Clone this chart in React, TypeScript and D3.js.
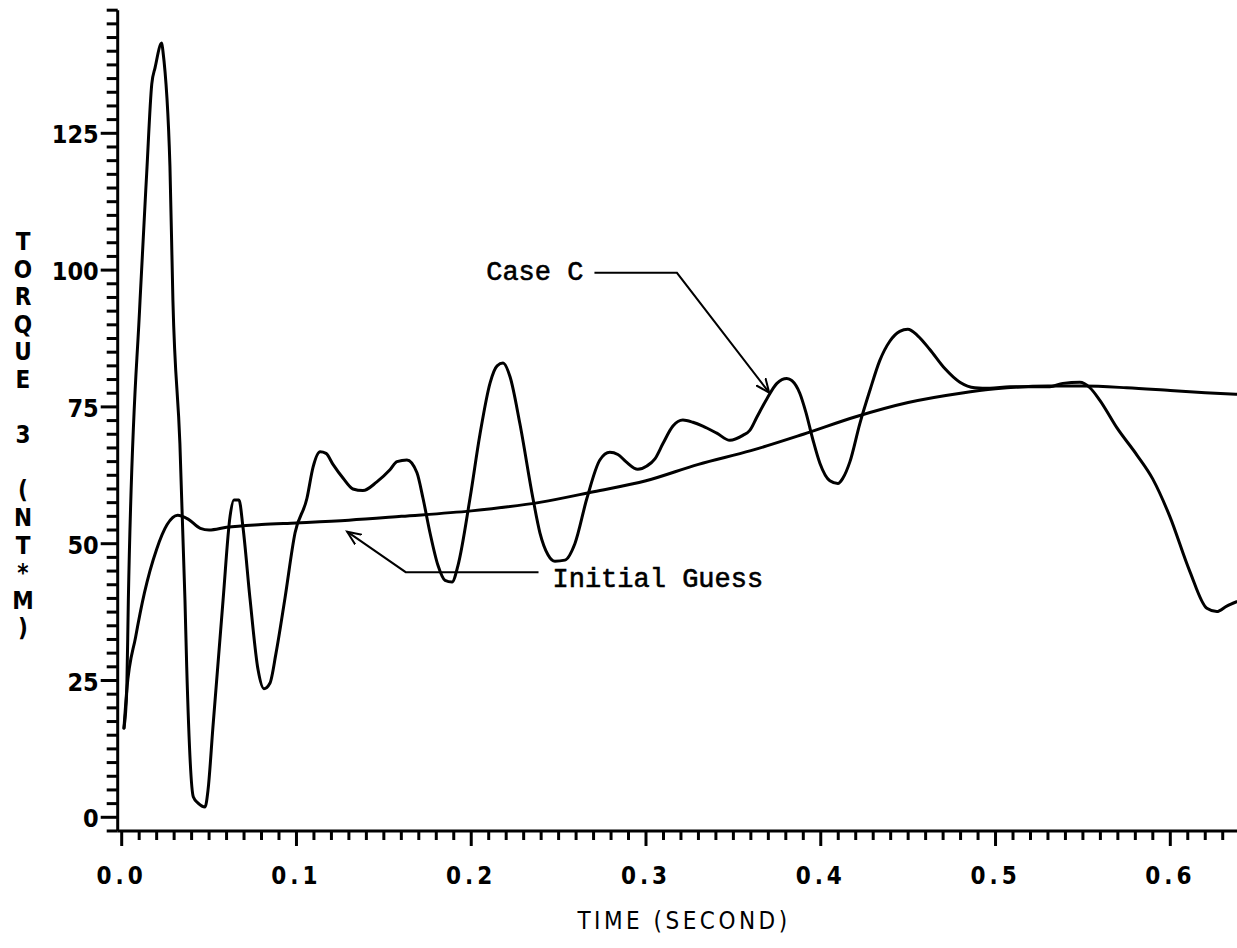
import React from 'react';
import * as d3 from 'd3';

// Case C torque history (time in s, torque in N*m)
const caseCTime = [
  0.0013, 0.0029, 0.0038, 0.0105, 0.0143, 0.0172, 0.0191, 0.0229, 0.0236, 0.0276,
  0.0293, 0.0333, 0.0362, 0.0372, 0.0410, 0.0437, 0.0477, 0.0494, 0.0522, 0.0580,
  0.0620, 0.0642, 0.0671, 0.0694, 0.0734, 0.0780, 0.0814, 0.0848, 0.0883, 0.0934,
  0.0992, 0.1060, 0.1095, 0.1135, 0.1169, 0.1209, 0.1266, 0.1323, 0.1380, 0.1460,
  0.1535, 0.1575, 0.1632, 0.1689, 0.1724, 0.1764, 0.1810, 0.1850, 0.1890, 0.1924,
  0.1993, 0.2050, 0.2108, 0.2148, 0.2182, 0.2222, 0.2278, 0.2353, 0.2393, 0.2439,
  0.2479, 0.2536, 0.2593, 0.2662, 0.2736, 0.2793, 0.2839, 0.2885, 0.2953, 0.3005,
  0.3051, 0.3097, 0.3154, 0.3211, 0.3268, 0.3325, 0.3405, 0.3480, 0.3554, 0.3594,
  0.3634, 0.3692, 0.3749, 0.3806, 0.3835, 0.3880, 0.3915, 0.3955, 0.3995, 0.4052,
  0.4098, 0.4127, 0.4167, 0.4224, 0.4281, 0.4338, 0.4395, 0.4452, 0.4498, 0.4555,
  0.4624, 0.4710, 0.4796, 0.4882, 0.4968, 0.5082, 0.5197, 0.5311, 0.5385, 0.5483,
  0.5540, 0.5597, 0.5694, 0.5809, 0.5900, 0.5997, 0.6111, 0.6209, 0.6266, 0.6323,
  0.6380,
];
const caseCTorque = [
  16.3, 23.2, 39.7, 94.5, 117.7, 134, 137, 141.5, 140, 119,
  94.5, 68.3, 39.7, 27.5, 3.7, 2.6, 1.9, 5, 16.5, 39.7,
  55, 58, 58, 53, 40, 27, 23.5, 24.5, 30, 40,
  52, 58.3, 64, 66.8, 66.5, 64.5, 62, 60, 59.7, 61.3,
  63.5, 65, 65.3, 63, 58.3, 52, 46, 43.3, 43, 46,
  58.3, 70, 79.4, 82.5, 83, 80.5, 72, 58.3, 52, 48,
  46.8, 47, 50, 58.3, 65.3, 66.7, 66.3, 65, 63.6, 64.2,
  65.5, 68.3, 71.5, 72.6, 72.2, 71.5, 70.2, 68.9, 69.8, 70.7,
  73.1, 76.5, 79.3, 80.2, 79.8, 77.5, 74, 69, 64.7, 61.5,
  61, 62, 65, 72, 78, 83.5, 87, 88.8, 89.2, 88,
  85.5, 82, 79.5, 78.5, 78.4, 78.7, 78.7, 78.7, 79.3, 79.5,
  78.5, 76.2, 71.2, 66.2, 61.8, 55, 45, 38.2, 37.6, 38.6,
  39.4,
];

// Initial guess torque history
const guessTime = [
  0.0013, 0.0029, 0.008, 0.013, 0.020, 0.026, 0.032, 0.038, 0.045, 0.050,
  0.060, 0.080, 0.100, 0.130, 0.160, 0.200, 0.240, 0.270, 0.300, 0.330,
  0.360, 0.390, 0.420, 0.450, 0.480, 0.500, 0.530, 0.550, 0.575, 0.600,
  0.620, 0.638,
];
const guessTorque = [
  16.3, 23.2, 33, 41, 49, 53.5, 55.2, 54.5, 52.8, 52.5,
  53, 53.5, 53.8, 54.3, 55, 56, 57.6, 59.5, 61.5, 64.5,
  67, 70, 73.2, 75.8, 77.5, 78.3, 78.8, 78.8, 78.5, 78,
  77.6, 77.3,
];

const xMajorTicks = [0, 0.1, 0.2, 0.3, 0.4, 0.5, 0.6];
const xTickLabels = ['0.0', '0.1', '0.2', '0.3', '0.4', '0.5', '0.6'];
const yMajorTicks = [0, 25, 50, 75, 100, 125];
const yTickLabels = ['0', '25', '50', '75', '100', '125'];

const xTitle = 'TIME (SECOND)';
const yTitle = 'TORQUE 3 (NT*M)';

// annotation leaders, in data units [time, torque]
const caseCLeader = [[0.2705, 99.5], [0.3177, 99.5], [0.3705, 77.6]];
const guessLeader = [[0.2385, 44.8], [0.1625, 44.8], [0.129, 52.2]];

const W = 1237;
const H = 948;

export default function App() {
  const x = d3.scaleLinear().domain([0, 0.6]).range([121.7, 1170.3]);
  const y = d3.scaleLinear().domain([0, 125]).range([817.3, 133.3]);

  const xMinor = d3.range(0, 64).map(i => i / 100);
  const yMinor = d3.range(-1, 60).map(i => i * 2.5);

  const x0 = x(0) - 4; // y axis position
  const yAxisTop = y(147.5);
  const yAxisBottom = y(-2.5);

  const caseCPath = d3.line<number>()
    .curve(d3.curveMonotoneX)
    .x((_, i) => x(caseCTime[i]))
    .y(d => y(d))(caseCTorque);
  const guessPath = d3.line<number>()
    .curve(d3.curveMonotoneX)
    .x((_, i) => x(guessTime[i]))
    .y(d => y(d))(guessTorque);

  const leader = d3.line<number[]>().x(d => x(d[0])).y(d => y(d[1]));

  const tickFont = "'DejaVu Sans Condensed', 'DejaVu Sans', sans-serif";
  const typeFont = "'Liberation Mono', 'DejaVu Sans Mono', monospace";

  return (
    <svg width={W} height={H} style={{ position: 'absolute', left: 0, top: 0, background: '#fff' }}>
      <defs>
        <marker id="arrow" markerUnits="userSpaceOnUse" markerWidth={18} markerHeight={14}
          refX={14} refY={7} orient="auto">
          <path d="M0,1 L14,7 L0,13" fill="none" stroke="#000" strokeWidth={2} />
        </marker>
      </defs>
      <rect width={W} height={H} fill="#fff" />

      {/* y axis */}
      <g stroke="#000" strokeWidth={3}>
        <line x1={x0} x2={x0} y1={yAxisTop} y2={yAxisBottom} />
        {yMinor.map(v => (
          <line key={'ym' + v} x1={x0 - (v % 25 === 0 ? 17 : 11)} x2={x0} y1={y(v)} y2={y(v)} />
        ))}
        {/* x axis */}
        <line x1={x0} x2={W} y1={yAxisBottom} y2={yAxisBottom} />
        {xMinor.map(t => (
          <line key={'xm' + t} x1={x(t)} x2={x(t)} y1={yAxisBottom}
            y2={yAxisBottom + (Math.round(t * 100) % 10 === 0 ? 15 : 9)} />
        ))}
      </g>

      <g fontFamily={tickFont} fontWeight="bold" fontSize={25} fill="#000">
        {yMajorTicks.map((v, i) => (
          <text key={'yl' + v} x={x0 - 19} y={y(v) + 10} textAnchor="end">{yTickLabels[i]}</text>
        ))}
      </g>
      <g fontFamily={tickFont} fontWeight="bold" fontSize={24} fill="#000">
        {xMajorTicks.map((t, i) => (
          <text key={'xl' + t} x={x(t)} y={884} textAnchor="middle" letterSpacing={4}>{xTickLabels[i]}</text>
        ))}
      </g>

      <text x={684} y={929} textAnchor="middle" fontFamily={tickFont} fontSize={24}
        letterSpacing={3.5} fill="#000">{xTitle}</text>

      <g fontFamily={tickFont} fontWeight="bold" fontSize={24} fill="#000">
        {yTitle.split('').map((c, i) => (
          <text key={'yt' + i} x={23} y={241 + i * 27.6 + 9} textAnchor="middle">{c}</text>
        ))}
      </g>

      {/* curves */}
      <g fill="none" stroke="#000" strokeWidth={3} strokeLinejoin="round" strokeLinecap="round">
        <path d={guessPath || ''} />
        <path d={caseCPath || ''} />
      </g>

      {/* annotations */}
      <g fill="none" stroke="#000" strokeWidth={2}>
        <path d={leader(caseCLeader) || ''} markerEnd="url(#arrow)" />
        <path d={leader(guessLeader) || ''} markerEnd="url(#arrow)" />
      </g>
      <g fontFamily={typeFont} fontSize={27} fill="#000" stroke="#000" strokeWidth={0.6}>
        <text x={x(caseCLeader[0][0]) - 11} y={y(98.1)} textAnchor="end">Case C</text>
        <text x={x(guessLeader[0][0]) + 14} y={y(42.1)} textAnchor="start">Initial Guess</text>
      </g>
    </svg>
  );
}
